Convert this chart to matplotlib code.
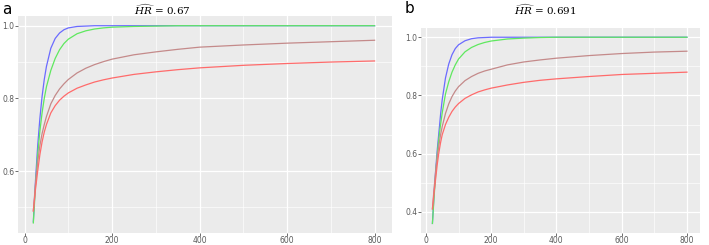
import matplotlib
matplotlib.use("Agg")
import matplotlib.pyplot as plt
from matplotlib.ticker import MultipleLocator

# ── Datos ───────────────────────────────────────────────────────────────────

n = [20, 25, 30, 35, 40, 45, 50, 60, 70, 80, 90, 100, 120, 140, 160, 180,
     200, 250, 300, 350, 400, 500, 600, 700, 800]

# panel a (HR = 0.67)
a_blue = [0.46, 0.575, 0.67, 0.745, 0.805, 0.852, 0.888, 0.938, 0.965, 0.98,
          0.989, 0.994, 0.998, 0.999, 1.0, 1.0, 1.0, 1.0, 1.0, 1.0, 1.0, 1.0,
          1.0, 1.0, 1.0]
a_green = [0.457, 0.56, 0.645, 0.71, 0.76, 0.80, 0.832, 0.877, 0.91, 0.934,
           0.951, 0.963, 0.978, 0.986, 0.991, 0.994, 0.996, 0.998, 0.999, 1.0,
           1.0, 1.0, 1.0, 1.0, 1.0]
a_brown = [0.49, 0.565, 0.625, 0.67, 0.703, 0.728, 0.75, 0.785, 0.808, 0.826,
           0.84, 0.852, 0.87, 0.883, 0.893, 0.901, 0.908, 0.92, 0.928, 0.935,
           0.941, 0.947, 0.952, 0.956, 0.960]
a_red = [0.49, 0.55, 0.60, 0.645, 0.68, 0.707, 0.728, 0.76, 0.78, 0.795, 0.806,
         0.815, 0.828, 0.837, 0.845, 0.851, 0.856, 0.866, 0.873, 0.879, 0.884,
         0.891, 0.896, 0.900, 0.903]

# panel b (HR = 0.691)
b_blue = [0.36, 0.46, 0.545, 0.615, 0.675, 0.735, 0.785, 0.86, 0.908, 0.94,
          0.961, 0.974, 0.988, 0.995, 0.998, 0.999, 1.0, 1.0, 1.0, 1.0, 1.0,
          1.0, 1.0, 1.0, 1.0]
b_green = [0.36, 0.45, 0.53, 0.60, 0.655, 0.70, 0.74, 0.805, 0.847, 0.88,
           0.905, 0.925, 0.95, 0.965, 0.975, 0.982, 0.987, 0.994, 0.997, 0.999,
           1.0, 1.0, 1.0, 1.0, 1.0]
b_brown = [0.41, 0.48, 0.54, 0.59, 0.63, 0.665, 0.693, 0.738, 0.771, 0.796,
           0.815, 0.83, 0.851, 0.865, 0.876, 0.884, 0.89, 0.905, 0.915, 0.922,
           0.928, 0.937, 0.944, 0.949, 0.952]
b_red = [0.41, 0.465, 0.515, 0.565, 0.605, 0.638, 0.665, 0.70, 0.725, 0.745,
         0.76, 0.772, 0.79, 0.802, 0.812, 0.819, 0.825, 0.836, 0.845, 0.852,
         0.857, 0.865, 0.872, 0.876, 0.880]

colores = ["#6b6bff", "#5fe85f", "#c48a8a", "#ff6b6b"]

# ── Figura ───────────────────────────────────────────────────────────────────

plt.rcParams["mathtext.fontset"] = "dejavuserif"

fig = plt.figure(figsize=(7.09, 2.45), dpi=100)
ax_a = fig.add_axes([0.0254, 0.05, 0.5276, 0.885])
ax_b = fig.add_axes([0.5938, 0.05, 0.3935, 0.836])


def estilo(ax, ylim, yticks):
    ax.set_facecolor("#ebebeb")
    for s in ax.spines.values():
        s.set_visible(False)
    ax.set_xlim(-15, 840)
    ax.set_ylim(*ylim)
    ax.set_xticks([0, 200, 400, 600, 800])
    ax.set_yticks(yticks)
    ax.xaxis.set_minor_locator(MultipleLocator(100))
    ax.yaxis.set_minor_locator(MultipleLocator(0.1))
    ax.grid(True, which="major", color="white", linewidth=0.9, zorder=0)
    ax.grid(True, which="minor", color="white", linewidth=0.45, zorder=0)
    ax.tick_params(which="major", length=2, width=0.6, color="#555555",
                   labelsize=5.5, labelcolor="#5a5a5a", pad=0.5)
    ax.tick_params(which="minor", length=0)
    ax.set_axisbelow(True)


estilo(ax_a, (0.43, 1.027), [0.6, 0.8, 1.0])
estilo(ax_b, (0.328, 1.032), [0.4, 0.6, 0.8, 1.0])

for serie, c in zip([a_blue, a_green, a_brown, a_red], colores):
    ax_a.plot(n, serie, color=c, linewidth=0.9, zorder=3)
for serie, c in zip([b_blue, b_green, b_brown, b_red], colores):
    ax_b.plot(n, serie, color=c, linewidth=0.9, zorder=3)

fig.text(0.229, 0.958, r"$\widehat{HR}$ = 0.67", ha="center", va="center",
         fontsize=7.5, family="DejaVu Serif")
fig.text(0.769, 0.958, r"$\widehat{HR}$ = 0.691", ha="center", va="center",
         fontsize=7.5, family="DejaVu Serif")
fig.text(0.003, 0.96, "a", fontsize=11, ha="left", va="center")
fig.text(0.571, 0.965, "b", fontsize=11, ha="left", va="center")

fig.savefig("out.png", dpi=100)
